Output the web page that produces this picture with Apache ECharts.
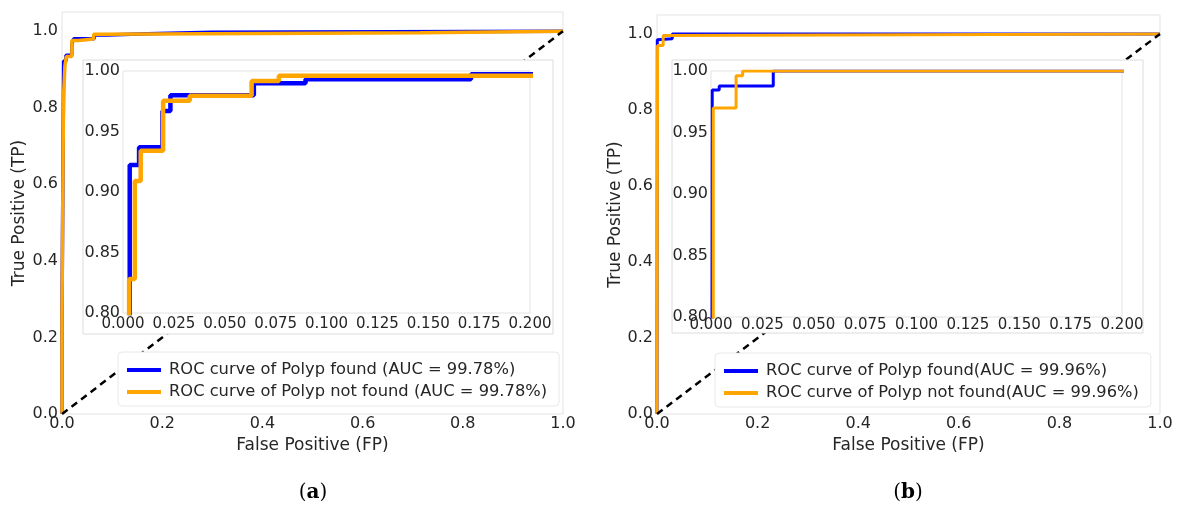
<!DOCTYPE html>
<html>
<head>
<meta charset="utf-8">
<script src="https://cdn.jsdelivr.net/npm/echarts@6.0.0/dist/echarts.min.js"></script>
<style>
html, body { margin: 0; padding: 0; background: #fff; }
#roc { width: 1178px; height: 508px; }
</style>
</head>
<body>
<div id="roc"></div>
<script>
// panel (a)
var fprFoundA = [0, 0, 0.0033, 0.0033, 0.0079, 0.0079, 0.0194, 0.0194, 0.0233, 0.0233, 0.0643, 0.0643, 0.0897, 0.0897, 0.171, 0.171, 0.30, 0.30, 1];
var tprFoundA = [0, 0.26, 0.26, 0.9223, 0.9223, 0.937, 0.937, 0.967, 0.967, 0.980, 0.980, 0.9898, 0.9898, 0.9931, 0.9931, 0.9973, 0.9973, 1, 1];
var fprNotA = [0, 0, 0.003, 0.003, 0.0058, 0.0058, 0.0087, 0.0087, 0.0197, 0.0197, 0.0328, 0.0328, 0.0632, 0.0632, 0.0766, 0.0766, 0.715, 0.715, 1];
var tprNotA = [0, 0.26, 0.26, 0.828, 0.828, 0.909, 0.909, 0.934, 0.934, 0.9755, 0.9755, 0.9796, 0.9796, 0.9917, 0.9917, 0.9961, 0.9961, 1, 1];

// panel (b)
var fprFoundB = [0, 0.0006, 0.0006, 0.004, 0.004, 0.0303, 0.0303, 1];
var tprFoundB = [0, 0, 0.9846, 0.9846, 0.9878, 0.9878, 1, 1];
var fprNotB = [0, 0.0011, 0.0011, 0.0122, 0.0122, 0.0154, 0.0154, 1];
var tprNotB = [0, 0, 0.970, 0.970, 0.9962, 0.9962, 1, 1];

var chanceFpr = [0, 1];
var chanceTpr = [0, 1];

var namesA = ['ROC curve of Polyp found (AUC = 99.78%)', 'ROC curve of Polyp not found (AUC = 99.78%)'];
var namesB = ['ROC curve of Polyp found(AUC = 99.96%)', 'ROC curve of Polyp not found(AUC = 99.96%)'];

var BLUE = '#0000ff';
var ORANGE = '#ffa500';
var FONT = 'DejaVu Sans';
var TXT = '#262626';
var FRAME = '#e3e3e3';

function pairs(xs, ys) {
	var out = [];
	for (var i = 0; i < xs.length; i++) {
		out.push([xs[i], ys[i]]);
	}
	return out;
}

function mainX(grid) {
	return {
		type: 'value', gridIndex: grid, min: 0, max: 1, interval: 0.2,
		axisLine: { show: false }, axisTick: { show: false }, splitLine: { show: false },
		axisLabel: { fontSize: 16, color: TXT, fontFamily: FONT, margin: 2,
			formatter: function(v) { return v.toFixed(1); } },
		name: 'False Positive (FP)', nameLocation: 'middle', nameGap: 19,
		nameTextStyle: { fontSize: 17, color: TXT, fontFamily: FONT }
	};
}

function mainY(grid, gap) {
	return {
		type: 'value', gridIndex: grid, min: 0, max: 1.05, interval: 0.2,
		axisLine: { show: false }, axisTick: { show: false }, splitLine: { show: false },
		axisLabel: { fontSize: 16, color: TXT, fontFamily: FONT, margin: 4, showMaxLabel: false,
			formatter: function(v) { return Math.abs(v * 5 - Math.round(v * 5)) < 1e-6 ? v.toFixed(1) : ''; } },
		name: 'True Positive (TP)', nameLocation: 'middle', nameGap: gap,
		nameTextStyle: { fontSize: 17, color: TXT, fontFamily: FONT }
	};
}

function insetX(grid, margin) {
	return {
		type: 'value', gridIndex: grid, min: 0, max: 0.2, interval: 0.025, z: 6,
		axisLine: { show: false }, axisTick: { show: false }, splitLine: { show: false },
		axisLabel: { fontSize: 15, color: TXT, fontFamily: FONT, margin: margin,
			formatter: function(v) { return v.toFixed(3); } }
	};
}

function insetY(grid) {
	return {
		type: 'value', gridIndex: grid, min: 0.8, max: 1.0, interval: 0.05, z: 6,
		axisLine: { show: false }, axisTick: { show: false }, splitLine: { show: false },
		axisLabel: { fontSize: 16, color: TXT, fontFamily: FONT, margin: 3,
			formatter: function(v) { return v.toFixed(2); } }
	};
}

function curve(name, axis, xs, ys, color, width, z) {
	return {
		name: name, type: 'line', xAxisIndex: axis, yAxisIndex: axis,
		data: pairs(xs, ys), showSymbol: false, symbol: 'none', z: z,
		lineStyle: { color: color, width: width }, itemStyle: { color: color },
		animation: false
	};
}

function chance(axis) {
	return {
		type: 'line', xAxisIndex: axis, yAxisIndex: axis, data: pairs(chanceFpr, chanceTpr),
		showSymbol: false, symbol: 'none', z: 3, animation: false,
		lineStyle: { color: '#000', width: 2.5, type: [7, 5] }
	};
}

function legendBox(names, left, top) {
	return {
		data: names, orient: 'vertical', left: left, top: top, z: 20,
		icon: 'rect', itemWidth: 34, itemHeight: 4, itemGap: 6,
		padding: [10, 12, 6, 9], backgroundColor: '#fff', borderColor: '#e8e8e8',
		borderWidth: 1, borderRadius: 4, selectedMode: false,
		textStyle: { fontSize: 16.3, color: TXT, fontFamily: FONT, padding: [0, 0, 0, 3] }
	};
}

function caption(letter, x) {
	return {
		type: 'text', x: x, y: 493, z: 20,
		style: {
			text: '{p|(}{b|' + letter + '}{p|)}', align: 'center', verticalAlign: 'middle',
			rich: {
				p: { fontFamily: 'DejaVu Serif', fontSize: 20, fill: '#000' },
				b: { fontFamily: 'DejaVu Serif', fontSize: 20, fontWeight: 'bold', fill: '#000' }
			}
		}
	};
}

var chart = echarts.init(document.getElementById('roc'), null, { renderer: 'canvas' });

var option = {
	backgroundColor: '#fff',
	animation: false,
	grid: [
		{ left: 62, top: 12, width: 501, height: 402, show: true, borderColor: FRAME, borderWidth: 1 },
		{ left: 123, top: 71, width: 407, height: 242, show: true, borderColor: FRAME, borderWidth: 1, z: 6 },
		{ left: 657, top: 15, width: 503, height: 399, show: true, borderColor: FRAME, borderWidth: 1 },
		{ left: 711, top: 71, width: 411, height: 246, show: true, borderColor: FRAME, borderWidth: 1, z: 6 }
	],
	xAxis: [mainX(0), insetX(1, 4), mainX(2), insetX(3, 1)],
	yAxis: [mainY(0, 34), insetY(1), mainY(2, 31), insetY(3)],
	legend: [legendBox(namesA, 118, 352), legendBox(namesB, 715, 353)],
	graphic: [
		{ type: 'rect', z: 5, shape: { x: 83, y: 60, width: 470, height: 274 },
			style: { fill: '#fff', stroke: '#dcdcdc', lineWidth: 1 } },
		{ type: 'rect', z: 5, shape: { x: 672, y: 60, width: 471, height: 273 },
			style: { fill: '#fff', stroke: '#dcdcdc', lineWidth: 1 } },
		caption('a', 313),
		caption('b', 908)
	],
	series: [
		chance(0),
		curve(namesA[0], 0, fprFoundA, tprFoundA, BLUE, 3.5, 2),
		curve(namesA[1], 0, fprNotA, tprNotA, ORANGE, 3.5, 2),
		curve(namesA[0], 1, fprFoundA, tprFoundA, BLUE, 4.5, 7),
		curve(namesA[1], 1, fprNotA, tprNotA, ORANGE, 4.5, 7),
		chance(2),
		curve(namesB[0], 2, fprFoundB, tprFoundB, BLUE, 3, 2),
		curve(namesB[1], 2, fprNotB, tprNotB, ORANGE, 3, 2),
		curve(namesB[0], 3, fprFoundB, tprFoundB, BLUE, 3, 7),
		curve(namesB[1], 3, fprNotB, tprNotB, ORANGE, 3, 7)
	]
};

chart.setOption(option);
</script>
</body>
</html>
